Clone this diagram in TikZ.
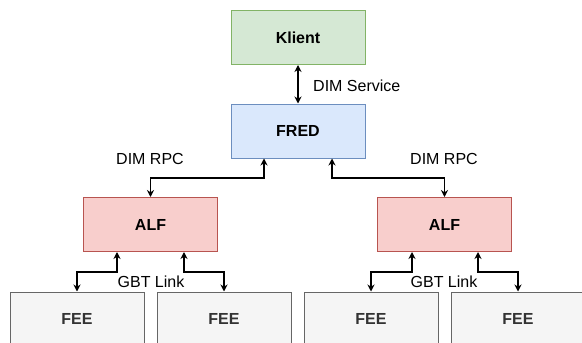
\documentclass[tikz,border=0pt]{standalone}
\usepackage{fontspec}
\setmainfont{Liberation Sans}
\usetikzlibrary{arrows.meta}
\definecolor{gfill}{HTML}{D5E8D4}\definecolor{gdraw}{HTML}{82B366}
\definecolor{bfill}{HTML}{DAE8FC}\definecolor{bdraw}{HTML}{6C8EBF}
\definecolor{rfill}{HTML}{F8CECC}\definecolor{rdraw}{HTML}{B85450}
\definecolor{kfill}{HTML}{F5F5F5}\definecolor{kdraw}{HTML}{666666}
\definecolor{ktext}{HTML}{333333}
\tikzset{
  box/.style={draw, line width=1pt, minimum width=134pt, minimum height=54pt, inner sep=0pt, font=\fontsize{16}{19}\selectfont\bfseries},
  green/.style={box, fill=gfill, draw=gdraw},
  blue/.style={box, fill=bfill, draw=bdraw},
  red/.style={box, fill=rfill, draw=rdraw},
  gray/.style={box, fill=kfill, draw=kdraw, text=ktext},
  arr/.style={line width=1.6pt, {Stealth[length=7pt,width=7pt]}-{Stealth[length=7pt,width=7pt]}},
  lbl/.style={font=\fontsize{16}{19}\selectfont, inner sep=0pt}
}
\begin{document}
\begin{tikzpicture}[x=1pt,y=-1pt]
\useasboundingbox (0,0) rectangle (582,343);
\node[green] (kl) at (298,37.5) {Klient};
\node[blue] (fred) at (298,131) {FRED};
\node[red] (alfL) at (150.5,224.5) {ALF};
\node[red] (alfR) at (444.5,224.5) {ALF};
\node[gray] (fee1) at (77,319) {FEE};
\node[gray] (fee2) at (224,319) {FEE};
\node[gray] (fee3) at (371,319) {FEE};
\node[gray] (fee4) at (518,319) {FEE};
\draw[arr] (kl.south) -- (fred.north);
\node[lbl, anchor=west] (ds) at (313,86) {DIM Service};
\coordinate (fl) at (264,178);
\coordinate (fr) at (332,178);
\draw[arr] (alfL.north) |- (fl) -- (fl |- fred.south);
\draw[arr] (alfR.north) |- (fr) -- (fr |- fred.south);
\node[lbl] (rpcL) at (150,159) {DIM RPC};
\node[lbl] (rpcR) at (444,159) {DIM RPC};
\coordinate (a1) at (117,272);
\coordinate (a2) at (184,272);
\coordinate (a3) at (412,272);
\coordinate (a4) at (478,272);
\draw[arr] (fee1.north) |- (a1) -- (a1 |- alfL.south);
\draw[arr] (fee2.north) |- (a2) -- (a2 |- alfL.south);
\draw[arr] (fee3.north) |- (a3) -- (a3 |- alfR.south);
\draw[arr] (fee4.north) |- (a4) -- (a4 |- alfR.south);
\node[lbl] (gbtL) at (151,282) {GBT Link};
\node[lbl] (gbtR) at (444,282) {GBT Link};
\end{tikzpicture}
\end{document}
